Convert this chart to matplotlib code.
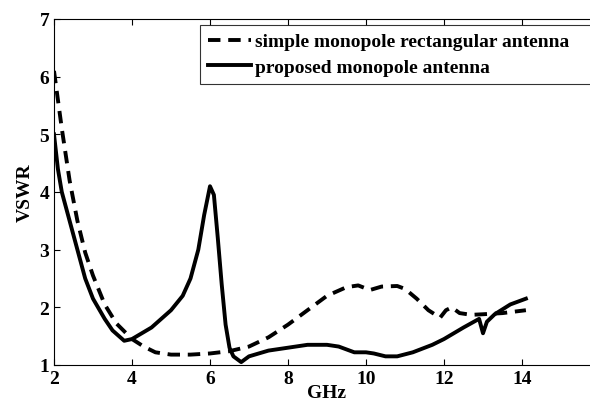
import matplotlib.pyplot as plt

plt.rcParams['font.family'] = ['Liberation Serif', 'DejaVu Serif']
plt.rcParams['font.weight'] = 'bold'

# simple monopole rectangular antenna (dashed)
f_simple = [2.0, 2.1, 2.2, 2.4, 2.6, 2.8, 3.0, 3.3, 3.6, 4.0, 4.3, 4.6, 5.0, 5.5,
            6.0, 6.5, 7.0, 7.5, 8.0, 8.5, 9.0, 9.5, 9.8, 10.1, 10.4, 10.8, 11.0,
            11.3, 11.6, 11.9, 12.05, 12.2, 12.4, 12.7, 13.0, 13.5, 14.1]
v_simple = [6.1, 5.6, 5.1, 4.2, 3.5, 2.95, 2.55, 2.05, 1.72, 1.45, 1.32, 1.22, 1.18, 1.18,
            1.2, 1.24, 1.32, 1.48, 1.7, 1.95, 2.2, 2.35, 2.38, 2.3, 2.36, 2.37, 2.32,
            2.15, 1.95, 1.82, 1.95, 2.0, 1.9, 1.87, 1.88, 1.9, 1.95]

# proposed monopole antenna (solid)
f_prop = [2.0, 2.1, 2.2, 2.4, 2.6, 2.8, 3.0, 3.3, 3.5, 3.8, 4.0, 4.5, 5.0, 5.3,
          5.5, 5.7, 5.85, 6.0, 6.1, 6.2, 6.3, 6.4, 6.5, 6.6, 6.8, 7.0, 7.5, 8.0,
          8.5, 9.0, 9.3, 9.7, 10.0, 10.2, 10.5, 10.8, 11.2, 11.7, 12.0, 12.5,
          12.9, 13.0, 13.1, 13.3, 13.7, 14.1]
v_prop = [5.0, 4.4, 4.0, 3.5, 3.0, 2.5, 2.15, 1.8, 1.6, 1.42, 1.45, 1.65, 1.95, 2.2,
          2.5, 3.0, 3.6, 4.1, 3.95, 3.2, 2.4, 1.7, 1.3, 1.15, 1.05, 1.15, 1.25, 1.3,
          1.35, 1.35, 1.32, 1.22, 1.22, 1.2, 1.15, 1.15, 1.22, 1.35, 1.45, 1.65,
          1.8, 1.55, 1.75, 1.88, 2.05, 2.15]

fig = plt.figure(figsize=(5.9, 4.1), dpi=100)
ax = fig.add_axes([54 / 590, 44 / 410, 546 / 590, 346 / 410])

ax.plot(f_simple, v_simple, color='black', lw=2.8, dashes=(3.2, 2.0),
        label='simple monopole rectangular antenna')
ax.plot(f_prop, v_prop, color='black', lw=2.8,
        label='proposed monopole antenna')

ax.set_xlim(2, 16)
ax.set_ylim(1, 7)
ax.set_xticks([2, 4, 6, 8, 10, 12, 14])
ax.set_yticks([1, 2, 3, 4, 5, 6, 7])
ax.tick_params(direction='in', labelsize=14, top=True, right=True, length=4)
ax.set_xlabel('GHz', fontsize=14, fontweight='bold', labelpad=-2)
ax.set_ylabel('VSWR', fontsize=14, fontweight='bold', labelpad=4)

leg = ax.legend(loc='upper left', bbox_to_anchor=(200 / 590, 1 - 84 / 410, 420 / 590, 58 / 410),
                bbox_transform=fig.transFigure, mode='expand', fontsize=14, frameon=True,
                fancybox=False, edgecolor='black', handlelength=2.2,
                borderpad=0.4, borderaxespad=0, labelspacing=0.4, handletextpad=0.25)
leg.get_frame().set_linewidth(0.8)

fig.savefig('out.png', dpi=100)
